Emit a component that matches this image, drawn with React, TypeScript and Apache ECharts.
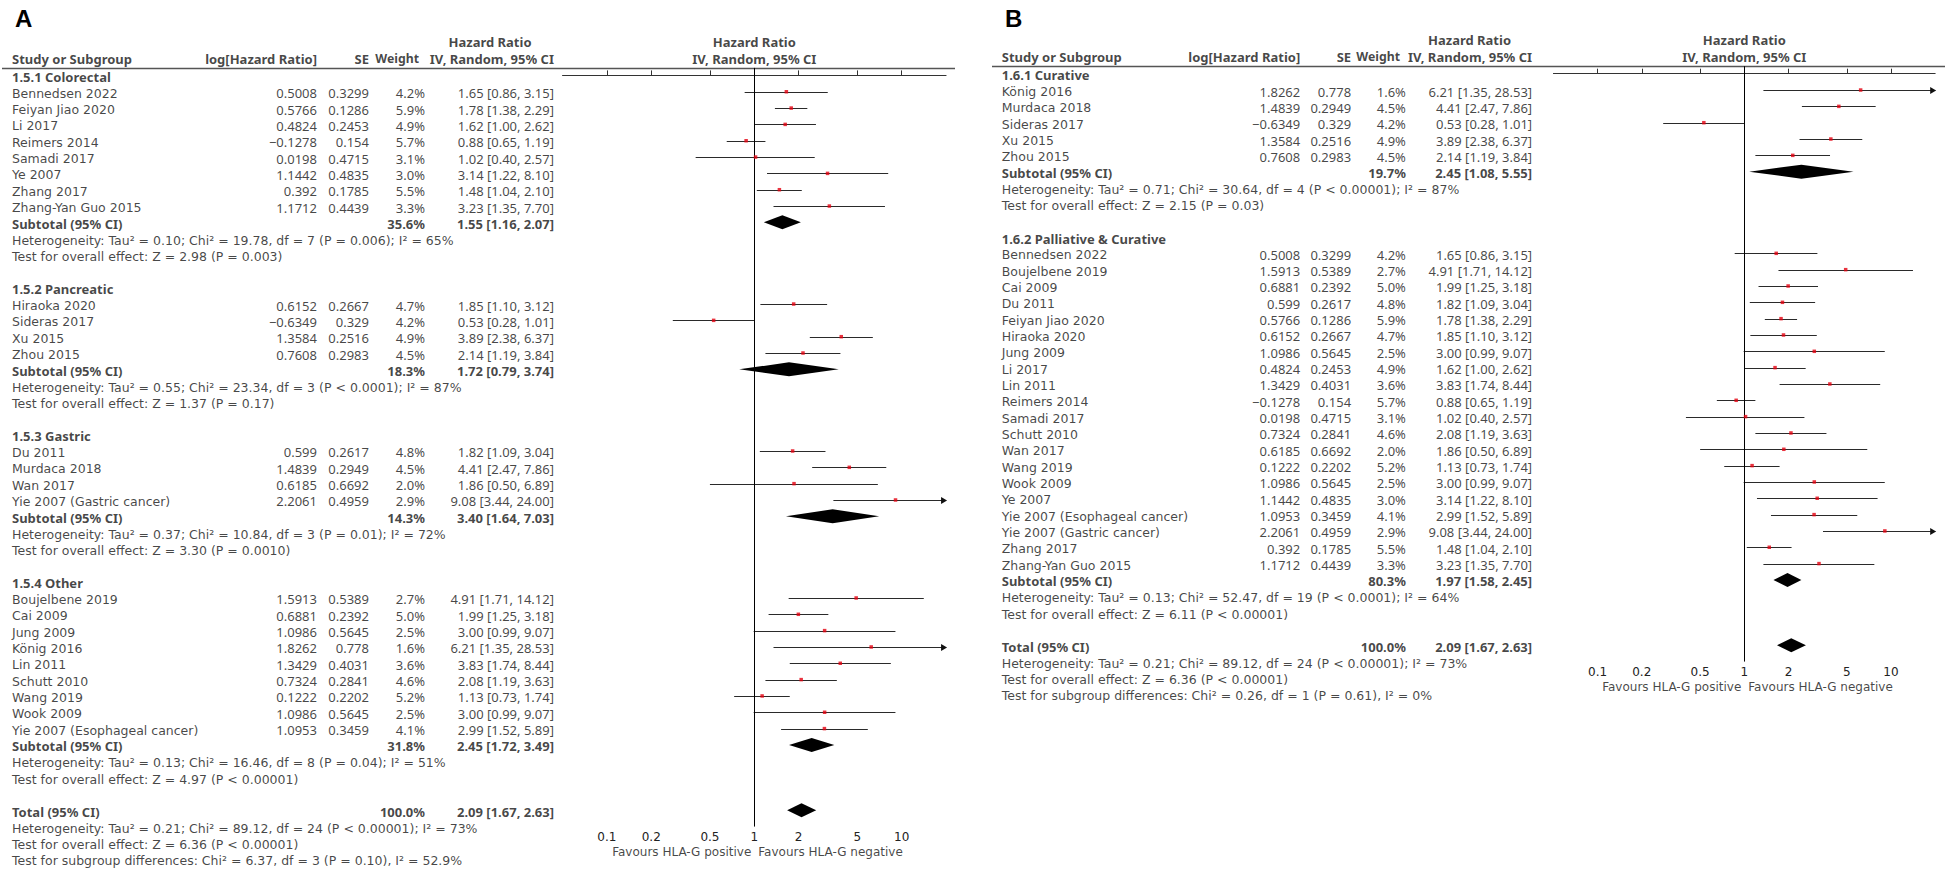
import React, { useEffect, useRef } from "react";
import * as echarts from "echarts";

// [study, log[HR], SE, weight %, HR, lower 95% CI, upper 95% CI]
type Study = [string, number, number, number, number, number, number];

const colorectal: Study[] = [
  ["Bennedsen 2022", 0.5008, 0.3299, 4.2, 1.65, 0.86, 3.15],
  ["Feiyan Jiao 2020", 0.5766, 0.1286, 5.9, 1.78, 1.38, 2.29],
  ["Li 2017", 0.4824, 0.2453, 4.9, 1.62, 1.0, 2.62],
  ["Reimers 2014", -0.1278, 0.154, 5.7, 0.88, 0.65, 1.19],
  ["Samadi 2017", 0.0198, 0.4715, 3.1, 1.02, 0.4, 2.57],
  ["Ye 2007", 1.1442, 0.4835, 3.0, 3.14, 1.22, 8.1],
  ["Zhang 2017", 0.392, 0.1785, 5.5, 1.48, 1.04, 2.1],
  ["Zhang-Yan Guo 2015", 1.1712, 0.4439, 3.3, 3.23, 1.35, 7.7],
];
const pancreatic: Study[] = [
  ["Hiraoka 2020", 0.6152, 0.2667, 4.7, 1.85, 1.1, 3.12],
  ["Sideras 2017", -0.6349, 0.329, 4.2, 0.53, 0.28, 1.01],
  ["Xu 2015", 1.3584, 0.2516, 4.9, 3.89, 2.38, 6.37],
  ["Zhou 2015", 0.7608, 0.2983, 4.5, 2.14, 1.19, 3.84],
];
const gastric: Study[] = [
  ["Du 2011", 0.599, 0.2617, 4.8, 1.82, 1.09, 3.04],
  ["Murdaca 2018", 1.4839, 0.2949, 4.5, 4.41, 2.47, 7.86],
  ["Wan 2017", 0.6185, 0.6692, 2.0, 1.86, 0.5, 6.89],
  ["Yie 2007 (Gastric cancer)", 2.2061, 0.4959, 2.9, 9.08, 3.44, 24.0],
];
const otherCancers: Study[] = [
  ["Boujelbene 2019", 1.5913, 0.5389, 2.7, 4.91, 1.71, 14.12],
  ["Cai 2009", 0.6881, 0.2392, 5.0, 1.99, 1.25, 3.18],
  ["Jung 2009", 1.0986, 0.5645, 2.5, 3.0, 0.99, 9.07],
  ["König 2016", 1.8262, 0.778, 1.6, 6.21, 1.35, 28.53],
  ["Lin 2011", 1.3429, 0.4031, 3.6, 3.83, 1.74, 8.44],
  ["Schutt 2010", 0.7324, 0.2841, 4.6, 2.08, 1.19, 3.63],
  ["Wang 2019", 0.1222, 0.2202, 5.2, 1.13, 0.73, 1.74],
  ["Wook 2009", 1.0986, 0.5645, 2.5, 3.0, 0.99, 9.07],
  ["Yie 2007 (Esophageal cancer)", 1.0953, 0.3459, 4.1, 2.99, 1.52, 5.89],
];

// subtotals: [weight %, HR, lower, upper]
const colorectalSub = [35.6, 1.55, 1.16, 2.07];
const pancreaticSub = [18.3, 1.72, 0.79, 3.74];
const gastricSub = [14.3, 3.4, 1.64, 7.03];
const otherSub = [31.8, 2.45, 1.72, 3.49];
const overallTotal = [100.0, 2.09, 1.67, 2.63];

const colorectalStats = ["Heterogeneity: Tau² = 0.10; Chi² = 19.78, df = 7 (P = 0.006); I² = 65%", "Test for overall effect: Z = 2.98 (P = 0.003)"];
const pancreaticStats = ["Heterogeneity: Tau² = 0.55; Chi² = 23.34, df = 3 (P < 0.0001); I² = 87%", "Test for overall effect: Z = 1.37 (P = 0.17)"];
const gastricStats = ["Heterogeneity: Tau² = 0.37; Chi² = 10.84, df = 3 (P = 0.01); I² = 72%", "Test for overall effect: Z = 3.30 (P = 0.0010)"];
const otherStats = ["Heterogeneity: Tau² = 0.13; Chi² = 16.46, df = 8 (P = 0.04); I² = 51%", "Test for overall effect: Z = 4.97 (P < 0.00001)"];
const totalStatsA = [
  "Heterogeneity: Tau² = 0.21; Chi² = 89.12, df = 24 (P < 0.00001); I² = 73%",
  "Test for overall effect: Z = 6.36 (P < 0.00001)",
  "Test for subgroup differences: Chi² = 6.37, df = 3 (P = 0.10), I² = 52.9%",
];

const curativeNames = ["König 2016", "Murdaca 2018", "Sideras 2017", "Xu 2015", "Zhou 2015"];
const palliativeNames = [
  "Bennedsen 2022", "Boujelbene 2019", "Cai 2009", "Du 2011", "Feiyan Jiao 2020", "Hiraoka 2020", "Jung 2009",
  "Li 2017", "Lin 2011", "Reimers 2014", "Samadi 2017", "Schutt 2010", "Wan 2017", "Wang 2019", "Wook 2009",
  "Ye 2007", "Yie 2007 (Esophageal cancer)", "Yie 2007 (Gastric cancer)", "Zhang 2017", "Zhang-Yan Guo 2015",
];
const curativeSub = [19.7, 2.45, 1.08, 5.55];
const palliativeSub = [80.3, 1.97, 1.58, 2.45];
const curativeStats = ["Heterogeneity: Tau² = 0.71; Chi² = 30.64, df = 4 (P < 0.00001); I² = 87%", "Test for overall effect: Z = 2.15 (P = 0.03)"];
const palliativeStats = ["Heterogeneity: Tau² = 0.13; Chi² = 52.47, df = 19 (P < 0.0001); I² = 64%", "Test for overall effect: Z = 6.11 (P < 0.00001)"];
const totalStatsB = [
  "Heterogeneity: Tau² = 0.21; Chi² = 89.12, df = 24 (P < 0.00001); I² = 73%",
  "Test for overall effect: Z = 6.36 (P < 0.00001)",
  "Test for subgroup differences: Chi² = 0.26, df = 1 (P = 0.61), I² = 0%",
];

const tickValues = [0.1, 0.2, 0.5, 1, 2, 5, 10];
const axisRange = [0.05, 20];
const favoursLabels = ["Favours HLA-G positive", "Favours HLA-G negative"];

const FONT_TXT = '"DejaVu Sans", "Noto Sans", sans-serif';
const FONT_NUM = '"Noto Sans", "DejaVu Sans", sans-serif';
const FONT_BOLD = '"Noto Sans", "DejaVu Sans", sans-serif';
const FS = 13;
const ROW_H = 16.33;
const TEXT_COLOR = "#151515";

interface Group { title: string; studies: Study[]; sub: number[]; stats: string[]; }
interface Panel { letter: string; x0: number; yH: number; xc: number; dec: number; groups: Group[]; total: number[]; totalStats: string[]; }

const allStudies: Study[] = [...colorectal, ...pancreatic, ...gastric, ...otherCancers];
const byName = (n: string) => allStudies.find((s) => s[0] === n) as Study;

const fmtNum = (v: number) => (v < 0 ? "\u2212" + String(-v) : String(v));
const fmtCI = (hr: number, lo: number, hi: number) => `${hr.toFixed(2)} [${lo.toFixed(2)}, ${hi.toFixed(2)}]`;
const L = (v: number) => Math.log10(v);

type Kind = "txt" | "num" | "bold";
const lbl = (align: string, kind: Kind, size?: number) => ({
  align,
  fontWeight: kind === "bold" ? "bold" : "normal",
  fontFamily: kind === "bold" ? FONT_BOLD : kind === "num" ? FONT_NUM : FONT_TXT,
  fontSize: size ?? (kind === "txt" ? 12.5 : FS),
});

function buildPanel(p: Panel, gi: number) {
  const TS = 1.5 / ROW_H; // text vertical shift
  const texts: any[] = [];
  const plotTexts: any[] = [];
  const ciData: number[][] = [];
  const dotData: number[][] = [];
  const diamondData: number[][] = [];
  const add = (x: number, row: number, s: string, align: string, kind: Kind, size?: number) =>
    texts.push({ value: [x, row + TS], name: s, label: lbl(align, kind, size) });

  const hRow1 = -2.15, hRow2 = -1.12;
  add(12, hRow2, "Study or Subgroup", "left", "bold");
  add(317, hRow2, "log[Hazard Ratio]", "right", "bold");
  add(369, hRow2, "SE", "right", "bold");
  add(419, hRow2, "Weight", "right", "bold", 12.3);
  add(490, hRow1, "Hazard Ratio", "center", "bold");
  add(554, hRow2, "IV, Random, 95% CI", "right", "bold");

  let r = 0;
  for (const g of p.groups) {
    add(12, r, g.title, "left", "bold");
    r++;
    for (const s of g.studies) {
      add(12, r, s[0], "left", "txt");
      add(317, r, fmtNum(s[1]), "right", "num");
      add(369, r, fmtNum(s[2]), "right", "num");
      add(425, r, s[3].toFixed(1) + "%", "right", "num");
      add(554, r, fmtCI(s[4], s[5], s[6]), "right", "num");
      ciData.push([L(s[5]), L(s[6]), r]);
      dotData.push([L(s[4]), r]);
      r++;
    }
    add(12, r, "Subtotal (95% CI)", "left", "bold");
    add(425, r, g.sub[0].toFixed(1) + "%", "right", "bold");
    add(554, r, fmtCI(g.sub[1], g.sub[2], g.sub[3]), "right", "bold");
    diamondData.push([L(g.sub[2]), L(g.sub[1]), L(g.sub[3]), r]);
    r++;
    for (const t of g.stats) {
      add(12, r, t, "left", "txt");
      r++;
    }
    r++;
  }
  const totRow = r;
  add(12, r, "Total (95% CI)", "left", "bold");
  add(425, r, p.total[0].toFixed(1) + "%", "right", "bold");
  add(554, r, fmtCI(p.total[1], p.total[2], p.total[3]), "right", "bold");
  diamondData.push([L(p.total[2]), L(p.total[1]), L(p.total[3]), r]);
  r++;
  for (const t of p.totalStats) {
    add(12, r, t, "left", "txt");
    r++;
  }

  const favRow = totRow + 1 + 25 / ROW_H;
  plotTexts.push({ value: [0, hRow1 + TS], name: "Hazard Ratio", label: lbl("center", "bold") });
  plotTexts.push({ value: [0, hRow2 + TS], name: "IV, Random, 95% CI", label: lbl("center", "bold") });
  plotTexts.push({ value: [0, favRow], name: favoursLabels[0], label: { ...lbl("right", "txt", 12), offset: [-3, 0] } });
  plotTexts.push({ value: [0, favRow], name: favoursLabels[1], label: { ...lbl("left", "txt", 12), offset: [4, 0] } });

  const lmin = L(axisRange[0]);
  const lmax = L(axisRange[1]);
  const tMin = -3, tMax = totRow + 3.5;
  const pMin = -0.46, pMax = totRow + 1;

  const grids = [
    { left: p.x0, width: 980, top: p.yH + tMin * ROW_H, height: (tMax - tMin) * ROW_H },
    { left: p.xc + lmin * p.dec, width: (lmax - lmin) * p.dec, top: p.yH + pMin * ROW_H, height: (pMax - pMin) * ROW_H },
  ];
  const xAxes = [
    { gridIndex: gi * 2, type: "value", min: 0, max: 980, show: false },
    {
      gridIndex: gi * 2 + 1, type: "value", min: lmin, max: lmax, position: "bottom",
      axisLine: { show: true, lineStyle: { color: "#333", width: 1 } },
      axisTick: { show: true, inside: true, length: 5, customValues: tickValues.map(L), lineStyle: { color: "#333" } },
      axisLabel: {
        show: true, customValues: tickValues.map(L), margin: 4, color: "#222", fontSize: 12, fontFamily: FONT_TXT,
        formatter: (v: number) => { const x = Math.pow(10, v); return x < 1 ? String(Math.round(x * 10) / 10) : String(Math.round(x)); },
      },
      splitLine: { show: false },
    },
  ];
  const yAxes = [
    { gridIndex: gi * 2, type: "value", min: tMin, max: tMax, inverse: true, show: false },
    { gridIndex: gi * 2 + 1, type: "value", min: pMin, max: pMax, inverse: true, show: false },
  ];
  const textLabel = { show: true, position: "inside", formatter: "{b}", color: TEXT_COLOR, fontSize: FS, fontFamily: FONT_TXT, verticalAlign: "middle" };
  const series: any[] = [
    {
      type: "scatter", xAxisIndex: gi * 2, yAxisIndex: gi * 2, data: texts, symbolSize: 0,
      itemStyle: { color: "rgba(0,0,0,0)" }, label: textLabel, silent: true, clip: false,
    },
    {
      type: "scatter", xAxisIndex: gi * 2 + 1, yAxisIndex: gi * 2 + 1, data: plotTexts, symbolSize: 0,
      itemStyle: { color: "rgba(0,0,0,0)" }, label: textLabel, silent: true, clip: false,
    },
    {
      type: "custom", xAxisIndex: gi * 2 + 1, yAxisIndex: gi * 2 + 1, data: ciData, silent: true,
      renderItem: (params: any, api: any) => {
        const lo = Math.max(api.value(0), lmin);
        const hiRaw = api.value(1);
        const hi = Math.min(hiRaw, lmax);
        const row = api.value(2);
        const p1 = api.coord([lo, row]);
        const p2 = api.coord([hi, row]);
        const y = Math.round(p1[1]) + 0.5;
        const children: any[] = [
          { type: "line", shape: { x1: p1[0], y1: y, x2: p2[0], y2: y }, style: { stroke: "#2a2a2a", lineWidth: 1 } },
        ];
        if (hiRaw > lmax) {
          children.push({
            type: "polygon",
            shape: { points: [[p2[0] + 1, y], [p2[0] - 5, y - 3.5], [p2[0] - 5, y + 3.5]] },
            style: { fill: "#111" },
          });
        }
        return { type: "group", children };
      },
    },
    {
      type: "custom", xAxisIndex: gi * 2 + 1, yAxisIndex: gi * 2 + 1, data: diamondData, silent: true,
      renderItem: (params: any, api: any) => {
        const row = api.value(3);
        const a = api.coord([api.value(0), row]);
        const c = api.coord([api.value(1), row]);
        const b = api.coord([api.value(2), row]);
        return {
          type: "polygon",
          shape: { points: [[a[0], a[1]], [c[0], c[1] - 7], [b[0], b[1]], [c[0], c[1] + 7]] },
          style: { fill: "#000" },
        };
      },
    },
    {
      type: "scatter", xAxisIndex: gi * 2 + 1, yAxisIndex: gi * 2 + 1, data: dotData, symbol: "rect", symbolSize: 3.5,
      itemStyle: { color: "#e3000f" }, silent: true, z: 5,
      markLine: {
        silent: true, symbol: ["none", "none"], label: { show: false },
        lineStyle: { color: "#000", type: "solid", width: 1 },
        data: [{ xAxis: 0 }],
      },
    },
  ];
  const lineY = Math.round(p.yH + pMin * ROW_H) + 0.5;
  const graphics: any[] = [
    { type: "line", shape: { x1: p.x0 + 2, y1: lineY, x2: p.x0 + 955, y2: lineY }, style: { stroke: "#555", lineWidth: 1.3 } },
    { type: "text", x: p.x0 + 15, y: 18, style: { text: p.letter, font: 'bold 24px "Liberation Sans", Arial, sans-serif', fill: "#000", verticalAlign: "middle" } },
  ];
  return { grids, xAxes, yAxes, series, graphics };
}

const panelA: Panel = {
  letter: "A", x0: 0, yH: 75.4, xc: 754.3, dec: 147.4,
  groups: [
    { title: "1.5.1 Colorectal", studies: colorectal, sub: colorectalSub, stats: colorectalStats },
    { title: "1.5.2 Pancreatic", studies: pancreatic, sub: pancreaticSub, stats: pancreaticStats },
    { title: "1.5.3 Gastric", studies: gastric, sub: gastricSub, stats: gastricStats },
    { title: "1.5.4 Other", studies: otherCancers, sub: otherSub, stats: otherStats },
  ],
  total: overallTotal, totalStats: totalStatsA,
};
const panelB: Panel = {
  letter: "B", x0: 990, yH: 73.7, xc: 1744.3, dec: 146.7,
  groups: [
    { title: "1.6.1 Curative", studies: curativeNames.map(byName), sub: curativeSub, stats: curativeStats },
    { title: "1.6.2 Palliative & Curative", studies: palliativeNames.map(byName), sub: palliativeSub, stats: palliativeStats },
  ],
  total: overallTotal, totalStats: totalStatsB,
};

export default function App() {
  const ref = useRef<HTMLDivElement>(null);
  useEffect(() => {
    if (!ref.current) return;
    const chart = echarts.init(ref.current, undefined, { renderer: "svg" });
    const a = buildPanel(panelA, 0);
    const b = buildPanel(panelB, 1);
    chart.setOption({
      animation: false,
      backgroundColor: "#fff",
      grid: [...a.grids, ...b.grids],
      xAxis: [...a.xAxes, ...b.xAxes],
      yAxis: [...a.yAxes, ...b.yAxes],
      series: [...a.series, ...b.series],
      graphic: [...a.graphics, ...b.graphics],
    });
    return () => chart.dispose();
  }, []);
  return <div ref={ref} style={{ position: "fixed", left: 0, top: 0, width: 1949, height: 877, background: "#fff" }} />;
}
